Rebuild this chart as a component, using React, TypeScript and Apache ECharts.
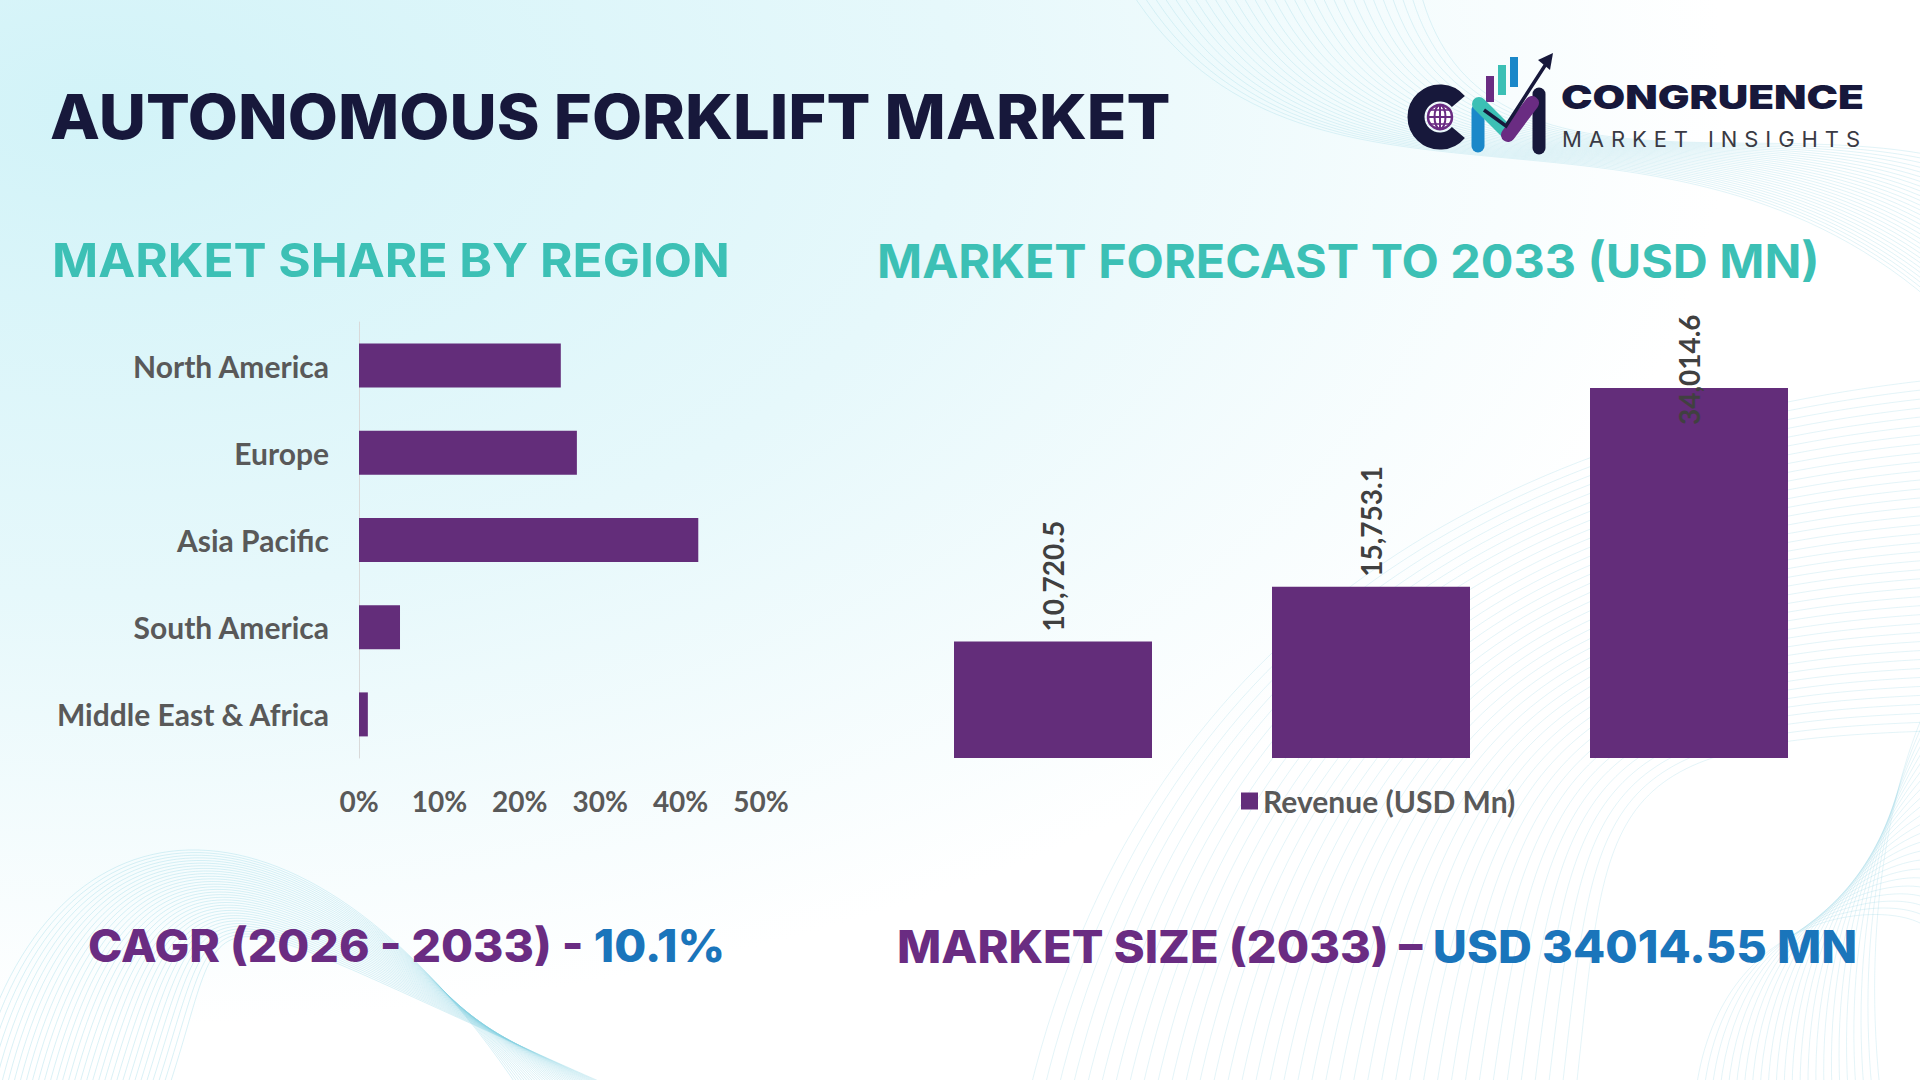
import React, { useEffect, useRef } from 'react';
import * as echarts from 'echarts';

// Regional share of the market (%)
const regions = ['North America', 'Europe', 'Asia Pacific', 'South America', 'Middle East & Africa'];
const regionShare = [25.1, 27.1, 42.2, 5.1, 1.1];
const shareAxisMax = 50;
const shareAxisStep = 10;

// Revenue forecast (USD Mn)
const forecastPeriods = ['Historical', 'Current', 'Forecast'];
const revenue = [10720.5, 15753.1, 34014.6];
const revenueAxisMax = 40000;

// Headline figures
const titleText = 'AUTONOMOUS FORKLIFT MARKET';
const leftHeading = 'MARKET SHARE BY REGION';
const rightHeading = 'MARKET FORECAST TO 2033 (USD MN)';
const cagrLabel = 'CAGR (2026 - 2033) - ';
const cagrValue = '10.1%';
const sizeLabel = 'MARKET SIZE (2033) – ';
const sizeValue = 'USD 34014.55 MN';
const legendName = 'Revenue (USD Mn)';

const NAVY = '#17183B';
const TEAL = '#3CC0B5';
const PURPLE = '#632D7A';
const HEAD_PURPLE = '#6A2C82';
const BLUE = '#1A75BB';
const GREY = '#595959';

const fmt = (v: number) =>
  v.toLocaleString('en-US', { minimumFractionDigits: 1, maximumFractionDigits: 1 });

export default function App() {
  const ref = useRef<HTMLDivElement>(null);

  useEffect(() => {
    if (!ref.current) return;
    const chart = echarts.init(ref.current, undefined, { renderer: 'svg' });

    const ctx = document.createElement('canvas').getContext('2d')!;
    const measure = (text: string, weight: number | string, size: number, family: string) => {
      ctx.font = `${weight} ${size}px ${family}`;
      return ctx.measureText(text).width;
    };

    // plain headline text stretched horizontally to a target width
    const fitted = (
      text: string, x: number, y: number, width: number,
      size: number, weight: number, family: string, fill: string
    ) => {
      const w = measure(text, weight, size, family);
      return {
        type: 'text', x, y, scaleX: width / w, z: 10,
        style: {
          text, fill, fontSize: size, fontWeight: weight, fontFamily: family,
          align: 'left', verticalAlign: 'middle', textAlign: 'left', textVerticalAlign: 'middle',
        },
      };
    };

    // two-colour headline
    const fittedRich = (
      a: string, b: string, x: number, y: number, width: number,
      size: number, weight: number, family: string, fa: string, fb: string
    ) => {
      const w = measure(a + b, weight, size, family);
      const base = { fontSize: size, fontWeight: weight, fontFamily: family };
      return {
        type: 'text', x, y, scaleX: width / w, z: 10,
        style: {
          text: `{a|${a}}{b|${b}}`,
          rich: { a: { ...base, fill: fa }, b: { ...base, fill: fb } },
          fontSize: size, fontWeight: weight, fontFamily: family,
          align: 'left', verticalAlign: 'middle', textAlign: 'left', textVerticalAlign: 'middle',
        },
      };
    };

    // letter-spaced text spread across a width
    const spaced = (text: string, x: number, y: number, width: number, size: number, family: string, fill: string) => {
      const chars = text.split('');
      const widths = chars.map((c) => measure(c, 400, size, family));
      const total = widths.reduce((s, v) => s + v, 0);
      const gap = (width - total) / (chars.length - 1);
      let cx = x;
      const out: any[] = [];
      chars.forEach((c, i) => {
        if (c !== ' ') {
          out.push({
            type: 'text', x: cx, y, z: 10,
            style: { text: c, fill, fontSize: size, fontWeight: 400, fontFamily: family, align: 'left', verticalAlign: 'middle', textAlign: 'left', textVerticalAlign: 'middle' },
          });
        }
        cx += widths[i] + gap;
      });
      return out;
    };

    // decorative wave meshes
    const waves: any[] = [];
    const waveStyle = (o: number) => ({ stroke: '#86cfe0', lineWidth: 1, opacity: o, fill: null });
    for (let i = 0; i < 34; i++) {
      waves.push({
        type: 'bezierCurve', z: -5, silent: true,
        shape: { x1: -30 + 6 * i, y1: 1090, cpx1: 40 + 6 * i, cpy1: 780 + 3 * i, cpx2: 300 - 4 * i, cpy2: 760 + 4 * i, x2: 520 + 3 * i, y2: 1090 },
        style: waveStyle(0.3),
      });
    }
    for (let i = 0; i < 30; i++) {
      waves.push({
        type: 'bezierCurve', z: -5, silent: true,
        shape: { x1: 1130 + 10 * i, y1: -10, cpx1: 1300 + 6 * i, cpy1: 260 - 2 * i, cpx2: 1650 + 3 * i, cpy2: 60 + 2 * i, x2: 1930, y2: 300 - 5 * i },
        style: waveStyle(0.25),
      });
    }
    for (let i = 0; i < 40; i++) {
      waves.push({
        type: 'bezierCurve', z: -5, silent: true,
        shape: { x1: 1030 + 14 * i, y1: 1090, cpx1: 1140 + 12 * i, cpy1: 640 + 4 * i, cpx2: 1480 + 3 * i, cpy2: 430 + 8 * i, x2: 1930, y2: 380 + 9 * i },
        style: waveStyle(0.22),
      });
    }
    for (let i = 0; i < 24; i++) {
      waves.push({
        type: 'bezierCurve', z: -5, silent: true,
        shape: { x1: 1880 - 8 * i, y1: 1090, cpx1: 1860 - 6 * i, cpy1: 900, cpx2: 1900, cpy2: 760 + 6 * i, x2: 1930, y2: 700 + 10 * i },
        style: waveStyle(0.22),
      });
    }

    // brand mark
    const logo: any[] = [
      { type: 'arc', z: 10, shape: { cx: 1440, cy: 117, r: 24, startAngle: (40 * Math.PI) / 180, endAngle: (320 * Math.PI) / 180, clockwise: true }, style: { stroke: NAVY, lineWidth: 17, fill: null } },
      { type: 'circle', z: 11, shape: { cx: 1440, cy: 117, r: 12 }, style: { stroke: HEAD_PURPLE, lineWidth: 2.5, fill: '#ffffff' } },
      { type: 'ellipse', z: 11, shape: { cx: 1440, cy: 117, rx: 5.5, ry: 12 }, style: { stroke: HEAD_PURPLE, lineWidth: 2, fill: null } },
      { type: 'line', z: 11, shape: { x1: 1428, y1: 117, x2: 1452, y2: 117 }, style: { stroke: HEAD_PURPLE, lineWidth: 2 } },
      { type: 'line', z: 11, shape: { x1: 1430, y1: 110, x2: 1450, y2: 110 }, style: { stroke: HEAD_PURPLE, lineWidth: 1.6 } },
      { type: 'line', z: 11, shape: { x1: 1430, y1: 124, x2: 1450, y2: 124 }, style: { stroke: HEAD_PURPLE, lineWidth: 1.6 } },
      { type: 'line', z: 11, shape: { x1: 1440, y1: 105, x2: 1440, y2: 129 }, style: { stroke: HEAD_PURPLE, lineWidth: 2 } },
      { type: 'rect', z: 10, shape: { x: 1486, y: 76, width: 8, height: 26 }, style: { fill: HEAD_PURPLE } },
      { type: 'rect', z: 10, shape: { x: 1498, y: 65, width: 8, height: 30 }, style: { fill: TEAL } },
      { type: 'rect', z: 10, shape: { x: 1510, y: 57, width: 8, height: 30 }, style: { fill: '#1B88C9' } },
      { type: 'line', z: 11, shape: { x1: 1478, y1: 110, x2: 1478, y2: 146 }, style: { stroke: '#1B88C9', lineWidth: 13, lineCap: 'round' } },
      { type: 'line', z: 12, shape: { x1: 1479, y1: 104, x2: 1508, y2: 133 }, style: { stroke: TEAL, lineWidth: 14, lineCap: 'round' } },
      { type: 'line', z: 12, shape: { x1: 1508, y1: 135, x2: 1532, y2: 103 }, style: { stroke: HEAD_PURPLE, lineWidth: 14, lineCap: 'round' } },
      { type: 'line', z: 11, shape: { x1: 1539, y1: 94, x2: 1539, y2: 148 }, style: { stroke: NAVY, lineWidth: 13, lineCap: 'round' } },
      { type: 'polyline', z: 13, shape: { points: [[1484, 110], [1506, 126], [1546, 64]] }, style: { stroke: NAVY, lineWidth: 3.5, fill: null } },
      { type: 'polygon', z: 13, shape: { points: [[1553, 53], [1538, 60], [1550, 70]] }, style: { fill: NAVY } },
    ];

    const graphic: any[] = [
      {
        type: 'rect', z: -10, silent: true,
        shape: { x: 0, y: 0, width: 1920, height: 1080 },
        style: {
          fill: new echarts.graphic.RadialGradient(0.05, 0.1, 1, [
            { offset: 0, color: '#d2f3f8' },
            { offset: 0.45, color: '#e6f8fb' },
            { offset: 0.85, color: '#ffffff' },
            { offset: 1, color: '#ffffff' },
          ]),
        },
      },
      ...waves,
      fitted(titleText, 50, 116, 1121, 62, 800, 'Inter', NAVY),
      fitted(leftHeading, 52, 260, 678, 47, 700, 'Inter', TEAL),
      fitted(rightHeading, 877, 261, 943, 47, 700, 'Inter', TEAL),
      fittedRich(cagrLabel, cagrValue, 88, 946, 637, 45, 800, 'Inter', HEAD_PURPLE, BLUE),
      fittedRich(sizeLabel, sizeValue, 897, 946, 960, 45, 800, 'Inter', HEAD_PURPLE, BLUE),
      ...logo,
      fitted('CONGRUENCE', 1561, 97, 303, 33, 900, 'Inter', NAVY),
      ...spaced('MARKET INSIGHTS', 1562, 139, 298, 22, 'Inter', '#3a3a44'),
    ];

    const axisFont = { color: GREY, fontFamily: 'Lato', fontWeight: 'bold' as const, fontSize: 28 };
    const catFont = { ...axisFont, fontSize: 30 };

    chart.setOption({
      animation: false,
      graphic,
      legend: {
        data: [legendName],
        left: 1236,
        top: 781,
        icon: 'rect',
        itemWidth: 17,
        itemHeight: 17,
        textStyle: catFont,
      },
      grid: [
        { left: 359, top: 322, width: 402, height: 436 },
        { left: 894, top: 323, width: 954, height: 435 },
      ],
      xAxis: [
        {
          gridIndex: 0, type: 'value', min: 0, max: shareAxisMax, interval: shareAxisStep,
          axisLine: { show: false }, axisTick: { show: false }, splitLine: { show: false },
          axisLabel: { ...axisFont, formatter: '{value}%', margin: 29 },
        },
        { gridIndex: 1, type: 'category', data: forecastPeriods, show: false },
      ],
      yAxis: [
        {
          gridIndex: 0, type: 'category', data: regions, inverse: true,
          axisLine: { show: true, lineStyle: { color: '#d9d9d9', width: 1 } },
          axisTick: { show: false },
          axisLabel: { ...catFont, margin: 30 },
        },
        { gridIndex: 1, type: 'value', min: 0, max: revenueAxisMax, show: false, splitLine: { show: false } },
      ],
      series: [
        {
          type: 'bar', xAxisIndex: 0, yAxisIndex: 0, data: regionShare,
          barWidth: 44, itemStyle: { color: PURPLE },
        },
        {
          type: 'bar', name: legendName, xAxisIndex: 1, yAxisIndex: 1,
          data: revenue.map((v, i) =>
            i === revenue.length - 1 ? { value: v, label: { position: ['50%', 37] } } : v
          ),
          barWidth: 198,
          itemStyle: { color: PURPLE },
          label: {
            show: true, position: 'top', distance: 10, rotate: 90,
            align: 'left', verticalAlign: 'middle',
            formatter: (p: any) => fmt(p.value),
            color: '#404040', fontFamily: 'Lato', fontWeight: 'bold', fontSize: 28,
          },
        },
      ],
    });

    return () => chart.dispose();
  }, []);

  return (
    <div
      ref={ref}
      style={{ position: 'fixed', left: 0, top: 0, width: 1920, height: 1080, background: '#ffffff' }}
    />
  );
}
